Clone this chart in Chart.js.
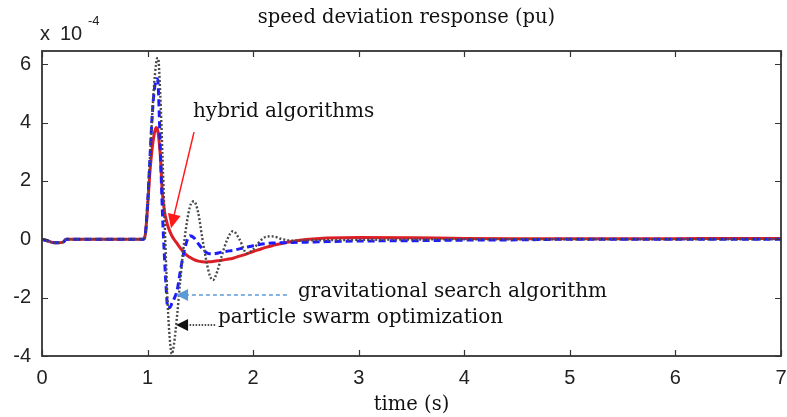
<!DOCTYPE html>
<html>
<head>
<meta charset="utf-8">
<script src="https://cdn.jsdelivr.net/npm/chart.js@4.4.1/dist/chart.umd.min.js"></script>
<style>
html,body{margin:0;padding:0;background:#fff;}
#wrap{width:787px;height:417px;position:relative;}
</style>
</head>
<body>
<div id="wrap"><canvas id="c" width="787" height="417"></canvas></div>
<script>
// time (s)
const timeS = [0, 0.05, 0.1, 0.15, 0.2, 0.23, 0.5, 0.9, 0.96, 0.98, 1.0, 1.02, 1.04, 1.06, 1.08, 1.09, 1.1, 1.12, 1.14, 1.16, 1.18, 1.19, 1.21, 1.23, 1.25, 1.28, 1.31, 1.35, 1.40, 1.44, 1.48, 1.52, 1.56, 1.59, 1.62, 1.66, 1.7, 1.75, 1.81, 1.87, 1.94, 2.0, 2.06, 2.12, 2.18, 2.28, 2.38, 2.5, 2.7, 3.0, 3.5, 4.0, 4.5, 5.0, 5.5, 6.0, 6.5, 7.0];
// speed deviation (x 1e-4 pu)
const hybrid = [0, -0.05, -0.11, -0.12, -0.1, 0, 0, 0, 0, 0.2, 1.1, 2.2, 3.0, 3.55, 3.83, 3.8, 3.65, 2.9, 1.6, 0.95, 0.62, 0.48, 0.28, 0.12, 0.0, -0.15, -0.3, -0.48, -0.62, -0.7, -0.75, -0.77, -0.78, -0.77, -0.76, -0.74, -0.72, -0.69, -0.65, -0.58, -0.5, -0.42, -0.35, -0.28, -0.22, -0.14, -0.07, -0.01, 0.04, 0.06, 0.05, 0.03, 0.02, 0.02, 0.02, 0.02, 0.03, 0.03];
const gsa = [0, -0.05, -0.11, -0.12, -0.1, 0, 0, 0, 0, 0.2, 1.2, 2.6, 4.0, 5.0, 5.45, 5.5, 5.3, 3.2, 1.0, -0.6, -1.9, -2.35, -2.35, -2.2, -2.05, -1.75, -1.1, -0.35, 0.12, 0.05, -0.15, -0.33, -0.46, -0.5, -0.5, -0.48, -0.44, -0.41, -0.38, -0.33, -0.27, -0.22, -0.18, -0.15, -0.13, -0.12, -0.11, -0.1, -0.08, -0.06, -0.05, -0.03, -0.02, 0, 0, 0, 0, 0];
const pso = [0, -0.05, -0.11, -0.12, -0.1, 0, 0, 0, 0, 0.2, 1.2, 2.6, 4.0, 5.2, 6.0, 6.2, 6.2, 5.0, 3.0, 0.8, -1.3, -2.2, -3.4, -3.93, -3.6, -2.6, -1.4, 0.0, 1.1, 1.3, 0.9, 0.0, -0.8, -1.25, -1.4, -1.1, -0.6, -0.05, 0.28, 0.0, -0.48, -0.35, -0.08, 0.08, 0.1, 0.0, -0.05, -0.04, -0.03, -0.02, -0.01, 0, 0, 0, 0, 0, 0, 0];
const xTicks = [0, 1, 2, 3, 4, 5, 6, 7];
const yTicks = [-4, -2, 0, 2, 4, 6];
const labels = ['hybrid algorithms', 'gravitational search algorithm', 'particle swarm optimization'];

const toPts = arr => arr.map((v, i) => ({x: timeS[i], y: v}));

const frame = {
  id: 'frame',
  afterDatasetsDraw(chart) {
    const {ctx, chartArea: a, scales: {x, y}} = chart;
    ctx.save();
    // box
    ctx.strokeStyle = '#333';
    ctx.lineWidth = 1.8;
    ctx.strokeRect(a.left, a.top, a.right - a.left, a.bottom - a.top);
    ctx.lineWidth = 1.2;
    ctx.beginPath();
    xTicks.forEach(t => {
      const px = Math.round(x.getPixelForValue(t)) + 0.5;
      ctx.moveTo(px, a.bottom); ctx.lineTo(px, a.bottom - 6);
      ctx.moveTo(px, a.top); ctx.lineTo(px, a.top + 6);
    });
    yTicks.forEach(v => {
      const py = Math.round(y.getPixelForValue(v)) + 0.5;
      ctx.moveTo(a.left, py); ctx.lineTo(a.left + 6, py);
      ctx.moveTo(a.right, py); ctx.lineTo(a.right - 6, py);
    });
    ctx.stroke();

    // x tick labels
    ctx.fillStyle = '#222';
    ctx.font = '20px "Liberation Sans"';
    ctx.textAlign = 'center';
    ctx.textBaseline = 'middle';
    xTicks.forEach(t => ctx.fillText(String(t), x.getPixelForValue(t), a.bottom + 22));

    const P = (t, v) => [x.getPixelForValue(t), y.getPixelForValue(v)];
    const head = (tip, dir, len, half, color) => {
      const [tx, ty] = tip;
      const ux = Math.cos(dir), uy = Math.sin(dir);
      ctx.fillStyle = color;
      ctx.beginPath();
      ctx.moveTo(tx, ty);
      ctx.lineTo(tx - ux * len - uy * half, ty - uy * len + ux * half);
      ctx.lineTo(tx - ux * len + uy * half, ty - uy * len - ux * half);
      ctx.closePath();
      ctx.fill();
    };

    // hybrid arrow
    const s1 = P(1.44, 3.67), e1 = P(1.222, 0.38);
    const d1 = Math.atan2(e1[1] - s1[1], e1[0] - s1[0]);
    ctx.strokeStyle = '#ff1a1a'; ctx.lineWidth = 1.5; ctx.setLineDash([]);
    ctx.beginPath(); ctx.moveTo(s1[0], s1[1]);
    ctx.lineTo(e1[0] - Math.cos(d1) * 10, e1[1] - Math.sin(d1) * 10); ctx.stroke();
    head(e1, d1, 14, 6.5, '#ff1a1a');

    // gsa arrow
    const s2 = P(2.32, -1.91), e2 = P(1.27, -1.91);
    ctx.strokeStyle = '#5b9bd5'; ctx.lineWidth = 1.3; ctx.setLineDash([4, 3]);
    ctx.beginPath(); ctx.moveTo(s2[0], s2[1]); ctx.lineTo(e2[0] + 10, e2[1]); ctx.stroke();
    ctx.setLineDash([]);
    head(e2, Math.PI, 12, 6, '#5b9bd5');

    // pso arrow
    const s3 = P(1.64, -2.94), e3 = P(1.27, -2.94);
    ctx.strokeStyle = '#111'; ctx.lineWidth = 1.5; ctx.setLineDash([1.5, 1.5]);
    ctx.beginPath(); ctx.moveTo(s3[0], s3[1]); ctx.lineTo(e3[0] + 10, e3[1]); ctx.stroke();
    ctx.setLineDash([]);
    head(e3, Math.PI, 12, 6, '#111');

    // annotation texts
    ctx.fillStyle = '#111';
    ctx.font = '20px "DejaVu Serif"';
    ctx.textAlign = 'left';
    ctx.textBaseline = 'alphabetic';
    let p = P(1.43, 4.19); ctx.fillText(labels[0], p[0], p[1]);
    p = P(2.425, -1.98); ctx.fillText(labels[1], p[0], p[1]);
    p = P(1.667, -2.87); ctx.fillText(labels[2], p[0], p[1]);

    // title
    ctx.textAlign = 'center';
    ctx.textBaseline = 'middle';
    ctx.font = '19.5px "DejaVu Serif"';
    ctx.fillText('speed deviation response (pu)', (a.left + a.right) / 2 - 5, 18);
    ctx.fillText('time (s)', (a.left + a.right) / 2, 405);

    // exponent label
    ctx.fillStyle = '#222';
    ctx.textAlign = 'left';
    ctx.font = '20px "Liberation Sans"';
    ctx.fillText('x', 40, 34);
    ctx.fillText('10', 60, 34);
    ctx.font = '13px "Liberation Sans"';
    ctx.fillText('-4', 88, 21);
    ctx.restore();
  }
};

new Chart(document.getElementById('c'), {
  type: 'line',
  data: {
    datasets: [
      {label: 'particle swarm optimization', data: toPts(pso), borderColor: '#4a4a4a', borderWidth: 2.4, borderDash: [2, 2], pointRadius: 0, cubicInterpolationMode: 'monotone', fill: false},
      {label: 'gravitational search algorithm', data: toPts(gsa), borderColor: '#1c1cff', borderWidth: 3, borderDash: [7, 4], pointRadius: 0, cubicInterpolationMode: 'monotone', fill: false},
      {label: 'hybrid algorithms', data: toPts(hybrid), borderColor: '#dc1f26', borderWidth: 3, pointRadius: 0, cubicInterpolationMode: 'monotone', fill: false}
    ]
  },
  options: {
    responsive: false,
    animation: false,
    events: [],
    layout: {padding: {top: 51, right: 6, left: 0, bottom: 0}},
    plugins: {legend: {display: false}, tooltip: {enabled: false}, title: {display: false}},
    scales: {
      x: {
        type: 'linear', min: 0, max: 7,
        afterBuildTicks: s => { s.ticks = xTicks.map(v => ({value: v})); },
        afterFit: s => { s.height = 61; },
        grid: {display: false, drawTicks: false},
        border: {display: false},
        ticks: {display: false}
      },
      y: {
        type: 'linear', min: -4, max: 6.45,
        afterBuildTicks: s => { s.ticks = yTicks.map(v => ({value: v})); },
        afterFit: s => { s.width = 42; },
        grid: {display: false, drawTicks: false},
        border: {display: false},
        ticks: {padding: 11, color: '#222', font: {family: 'Liberation Sans', size: 20}, autoSkip: false}
      }
    }
  },
  plugins: [frame]
});
</script>
</body>
</html>
